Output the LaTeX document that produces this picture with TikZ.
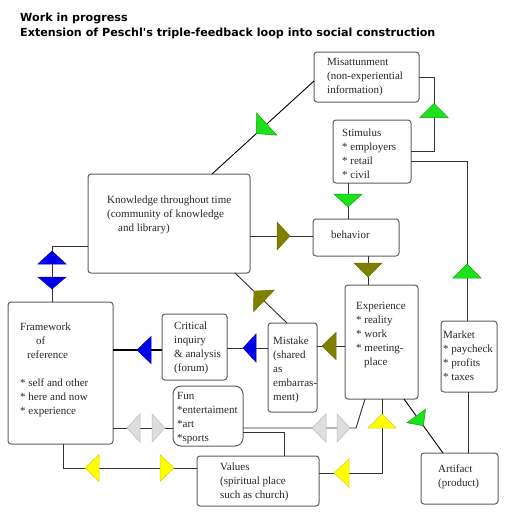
\documentclass[tikz,border=0pt]{standalone}
\usepackage{fontspec}
\setmainfont{Liberation Serif}
\newfontfamily\titlefont{DejaVu Sans}
\usetikzlibrary{decorations.markings,calc}
\definecolor{linec}{RGB}{50,50,50}
\definecolor{boxc}{RGB}{95,95,95}
\definecolor{txtc}{RGB}{40,40,40}
\definecolor{grf}{RGB}{30,225,30}
\definecolor{grd}{RGB}{0,170,0}
\definecolor{blf}{RGB}{0,0,230}
\definecolor{bld}{RGB}{0,0,200}
\definecolor{olf}{RGB}{128,128,0}
\definecolor{old}{RGB}{110,110,0}
\definecolor{yef}{RGB}{255,255,0}
\definecolor{yed}{RGB}{210,210,0}
\definecolor{gyf}{RGB}{222,222,222}
\definecolor{gyd}{RGB}{185,185,185}
\tikzset{
  box/.style={draw=boxc, line width=1pt, rounded corners=3pt, inner sep=0pt, outer sep=0pt, anchor=north west},
  txt/.style={anchor=north west, inner sep=0pt, align=left, text=txtc, font=\fontsize{11}{14}\selectfont},
  ttl/.style={anchor=base west, inner sep=0pt, text=black, font=\titlefont\bfseries\fontsize{11.15}{14}\selectfont},
  conn/.style={draw=linec, line width=0.9pt},
  tri/.style n args={4}{postaction={decorate,decoration={markings,mark=at position #2 with {\filldraw[fill=#1f, draw=#1d, line width=0.5pt] (0pt,-#3)--(#4,0pt)--(0pt,#3)--cycle;}}}},
}
\begin{document}
\begin{tikzpicture}[x=1pt,y=-1pt]
\useasboundingbox (0,0) rectangle (512,512);
\fill[white] (0,0) rectangle (512,512);

% titles
\node[ttl] (t1) at (20,21) {Work in progress};
\node[ttl] (t2) at (20,36) {Extension of Peschl\textquotesingle s triple-feedback loop into social construction};

% boxes
\node[box, minimum width=105pt, minimum height=50pt] (mis) at (314,52) {};
\node[box, minimum width=78pt, minimum height=63pt] (stim) at (333,120) {};
\node[box, minimum width=162pt, minimum height=99pt] (know) at (88,174) {};
\node[box, minimum width=86pt, minimum height=37pt] (beh) at (313,219) {};
\node[box, minimum width=73pt, minimum height=114pt] (exp) at (345,285) {};
\node[box, minimum width=56pt, minimum height=71pt] (mkt) at (441,321) {};
\node[box, minimum width=77pt, minimum height=51pt] (art) at (421,453) {};
\node[box, minimum width=49pt, minimum height=89pt] (mist) at (268,323) {};
\node[box, minimum width=65pt, minimum height=66pt] (crit) at (162,314) {};
\node[box, rounded corners=8pt, minimum width=70pt, minimum height=60pt] (fun) at (173,386) {};
\node[box, minimum width=122pt, minimum height=50pt] (val) at (197,456) {};
\node[box, minimum width=105pt, minimum height=142pt] (frame) at (8,302) {};

% texts
\node[txt] (tmis) at (327,58.5) {Misattunment\\(non-experiential\\information)};
\node[txt] (tstim) at (342,129) {Stimulus\\* employers\\* retail\\* civil};
\node[txt] (tknow) at (107,195.5) {Knowledge throughout time\\(community of knowledge\\\hspace*{11pt}and library)};
\node[txt] (tbeh) at (331,231) {behavior};
\node[txt] (texp) at (356,302.5) {Experience\\* reality\\* work\\* meeting-\\\hspace*{8pt}place};
\node[txt] (tmkt) at (443,331) {Market\\* paycheck\\* profits\\* taxes};
\node[txt] (tart) at (438,464.5) {Artifact\\(product)};
\node[txt] (tmist) at (273,337) {Mistake\\(shared\\as\\embarras-\\ment)};
\node[txt] (tcrit) at (174,322) {Critical\\inquiry\\\& analysis\\(forum)};
\node[txt] (tfun) at (177,392) {Fun\\*entertaiment\\*art\\*sports};
\node[txt] (tval) at (220,463) {Values\\(spiritual place\\such as church)};
\node[txt] (tframe) at (20,323) {Framework\\\hspace*{16pt}of\\\hspace*{7pt}reference\\[14pt]* self and other\\* here and now\\* experience};

% connectors
\draw[conn, draw=black, tri={gr}{64pt}{15pt}{14pt}] (mis.west |- 0,81) -- (know.north -| 212,0);
\draw[conn, tri={gr}{57pt}{14pt}{14pt}] (stim.east) -| ($(mis.east)+(15,0)$) -- (mis.east);
\draw[conn, tri={gr}{43pt}{14pt}{14pt}] (mkt.north -| 467,0) |- (stim.east |- 0,161);
\draw[conn, tri={gr}{11pt}{14pt}{13pt}] (stim.south -| 348,0) -- (beh.north -| 348,0);
\draw[conn, tri={ol}{27pt}{14pt}{13pt}] (know.east |- 0,236) -- (beh.west |- 0,236);
\draw[conn, tri={ol}{7pt}{14pt}{14pt}] (beh.south -| 368,0) -- (exp.north -| 368,0);
\draw[conn, tri={ol}{32pt}{15pt}{14pt}] (mist.north -| 287,0) -- (know.south -| 235,0);
\draw[conn, tri={ol}{9pt}{13.5pt}{14pt}] (exp.west |- 0,346) -- (mist.east |- 0,346);
\draw[conn, tri={bl}{12pt}{14pt}{13pt}] (mist.west |- 0,348) -- (crit.east |- 0,348);
\draw[conn, draw=black, line width=1.2pt, tri={bl}{11pt}{13.5pt}{14pt}] (crit.west |- 0,350) -- (frame.east |- 0,350);
\draw[conn, tri={bl}{54pt}{14pt}{-13pt}, tri={bl}{67pt}{14pt}{12pt}] (know.west |- 0,246) -| (frame.north -| 52,0);
\draw[conn, tri={gy}{27pt}{14pt}{-13pt}, tri={gy}{39pt}{14pt}{13pt}] (frame.east |- 0,428) -- (fun.west |- 0,428);
\coordinate (k13) at (356,428);
\draw[conn, tri={gy}{83pt}{14pt}{-14pt}, tri={gy}{94pt}{14pt}{13pt}] (fun.east |- 0,428) -- (k13) -- (exp.south -| 365,0);
\draw[conn] (fun.east |- 0,432) -| (val.north -| 284,0);
\draw[conn, tri={ye}{60pt}{13.5pt}{-14pt}, tri={ye}{121pt}{13.5pt}{14pt}] (frame.south -| 63,0) |- (val.west |- 0,468);
\draw[conn, tri={ye}{30pt}{14pt}{-15pt}, tri={ye}{108pt}{14pt}{14pt}] (val.east |- 0,473) -| (exp.south -| 382,0);
\draw[conn, draw=black, tri={gr}{21pt}{11.5pt}{12pt}] (exp.south -| 404,0) -- (art.north -| 443,0);
\draw[conn] (mkt.south -| 468,0) -- (art.north -| 468,0);
\end{tikzpicture}
\end{document}
